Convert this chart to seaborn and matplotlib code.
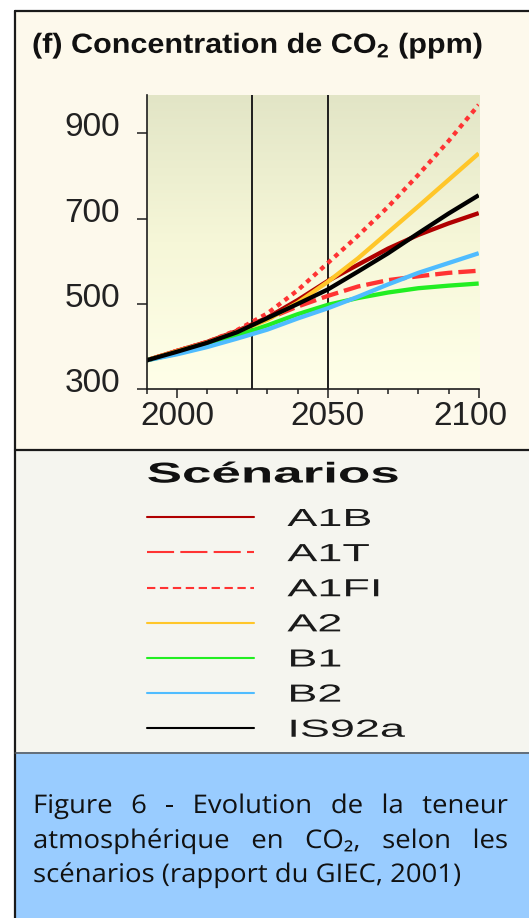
import numpy as np
import pandas as pd
import matplotlib
matplotlib.use("Agg")
import matplotlib.pyplot as plt
import seaborn as sns
from matplotlib import patheffects
from matplotlib.transforms import Affine2D, ScaledTranslation
from matplotlib.patches import Rectangle
from matplotlib.lines import Line2D

# ---------------------------------------------------------------- data
years = [1990, 2000, 2010, 2020, 2030, 2040, 2050, 2060, 2070, 2080, 2090, 2100]

a1b   = [368, 390, 411, 437, 468, 509, 554, 592, 630, 662, 689, 713]
a1t   = [368, 390, 410, 436, 465, 494, 519, 541, 556, 565, 573, 578]
a1fi  = [368, 390, 411, 439, 478, 532, 596, 660, 728, 803, 882, 967]
a2    = [368, 389, 409, 434, 463, 503, 552, 607, 668, 729, 791, 853]
b1    = [368, 384, 401, 426, 450, 476, 498, 514, 527, 537, 543, 548]
b2    = [368, 382, 399, 419, 440, 466, 490, 517, 546, 573, 596, 619]
is92a = [368, 388, 409, 434, 467, 500, 534, 576, 619, 666, 712, 755]

scenarios = ["A1B", "A1T", "A1FI", "A2", "B1", "B2", "IS92a"]
series = [a1b, a1t, a1fi, a2, b1, b2, is92a]
colors = ["#b00000", "#ff3333", "#ff3333", "#ffc629", "#22ee22", "#4fbcff", "#000000"]

y_ticks = [300, 500, 700, 900]
x_major = [2000, 2050, 2100]
x_minor = list(range(1990, 2101, 10))
period_marks = [2025, 2050]

title = r"(f) Concentration de CO$_\mathbf{2}$ (ppm)"
legend_title = "Scénarios"
caption_lines = [
    "Figure 6 - Evolution de la teneur",
    "atmosphérique en CO₂, selon les",
    "scénarios (rapport du GIEC, 2001)",
]

# ---------------------------------------------------------------- helpers
W, H, DPI = 529, 918, 100


def fx(px):
    return px / W


def fy(py):
    return 1 - py / H


class StretchX(patheffects.AbstractPathEffect):
    """Widen glyphs horizontally, keeping the left edge in place."""

    def __init__(self, sx):
        super().__init__()
        self.sx = sx

    def draw_path(self, renderer, gc, tpath, affine, rgbFace=None):
        if not len(tpath.vertices):
            return
        verts = affine.transform(tpath.vertices)
        x0 = verts[:, 0].min()
        aff = affine + Affine2D().translate(-x0, 0).scale(self.sx, 1).translate(x0, 0)
        renderer.draw_path(gc, tpath, aff, rgbFace)


sns.set_theme(style="white")
plt.rcParams["font.family"] = ["Liberation Sans", "DejaVu Sans"]
plt.rcParams["mathtext.fontset"] = "custom"
plt.rcParams["mathtext.rm"] = "Liberation Sans"
plt.rcParams["mathtext.bf"] = "Liberation Sans:bold"

fig = plt.figure(figsize=(W / DPI, H / DPI), dpi=DPI, facecolor="white")

# ---------------------------------------------------------------- panels
fig.add_artist(Rectangle((fx(15), fy(450)), 1, fy(11) - fy(450),
                         transform=fig.transFigure, facecolor="#fdf9ec", edgecolor="none", zorder=-5))
fig.add_artist(Rectangle((fx(15), fy(752)), 1, fy(450) - fy(752),
                         transform=fig.transFigure, facecolor="#f5f5ef", edgecolor="none", zorder=-5))
fig.add_artist(Rectangle((fx(15), 0), 1, fy(752),
                         transform=fig.transFigure, facecolor="#99ccff", edgecolor="none", zorder=-5))
for xs, ys, c, lw in [
    ([15, W], [11, 11], "#1a1a1a", 1.6),
    ([15, 15], [11, H], "#1a1a1a", 1.6),
    ([15, W], [450, 450], "#1a1a1a", 1.6),
    ([15, W], [752.5, 752.5], "#555555", 1.1),
]:
    fig.add_artist(Line2D([fx(v) for v in xs], [fy(v) for v in ys],
                          transform=fig.transFigure, color=c, lw=lw, zorder=-4))

# ---------------------------------------------------------------- axes
left, right, top, bottom = 146.7, 479.3, 95.0, 389.3
rect = [fx(left), fy(bottom), fx(right) - fx(left), fy(top) - fy(bottom)]

bg = fig.add_axes(rect, zorder=0)
stops = np.array([[226, 229, 198], [246, 247, 216], [255, 255, 233]]) / 255
t = np.linspace(0, 1, 256)
grad = np.stack([np.interp(t, [0, 0.5, 1], stops[:, k]) for k in range(3)], axis=1)
bg.imshow(grad[:, None, :], aspect="auto", extent=(0, 1, 0, 1), interpolation="bilinear")
bg.axis("off")

ax = fig.add_axes(rect, zorder=1)
ax.set_facecolor("none")

df = pd.DataFrame({
    "Année": np.tile(years, len(scenarios)),
    "CO2": np.concatenate(series),
    "Scénario": np.repeat(scenarios, len(years)),
})
dash_map = {"A1B": "", "A1T": (4, 1.4), "A1FI": (1.1, 1.1), "A2": "",
            "B1": "", "B2": "", "IS92a": ""}
sns.lineplot(data=df, x="Année", y="CO2", hue="Scénario", style="Scénario",
             hue_order=scenarios, style_order=scenarios,
             palette=dict(zip(scenarios, colors)), dashes=dash_map,
             linewidth=3.1, estimator=None, ax=ax, legend="full")
for ln in ax.lines:
    ln.set_solid_capstyle("butt")
    ln.set_dash_capstyle("butt")
    ln.set_solid_joinstyle("round")

for yr in period_marks:
    ax.axvline(yr, color="#1e1e1e", lw=1.4, zorder=1.5)

ax.set_xlim(1990, 2100.2)
ax.set_ylim(300, 990)
ax.set_xlabel("")
ax.set_ylabel("")
for side in ["top", "right"]:
    ax.spines[side].set_visible(False)
for side in ["left", "bottom"]:
    ax.spines[side].set_color("#1e1e1e")
    ax.spines[side].set_linewidth(1.2)

ax.set_yticks(y_ticks)
ax.set_yticklabels([str(v) for v in y_ticks])
ax.set_xticks(x_major)
ax.set_xticklabels([str(v) for v in x_major])
ax.set_xticks(x_minor, minor=True)
ax.tick_params(axis="y", which="major", length=7.2, width=1.1, color="#1e1e1e",
               pad=12, labelsize=24, labelcolor="#222222", direction="out", left=True)
ax.tick_params(axis="x", which="major", length=6.5, width=1.1, color="#1e1e1e",
               pad=2, labelsize=24, labelcolor="#222222", direction="out", bottom=True)
ax.tick_params(axis="x", which="minor", length=3.6, width=1.1, color="#1e1e1e",
               direction="out", bottom=True)
for lab in ax.get_yticklabels():
    lab.set_transform(lab.get_transform() + ScaledTranslation(0, 0.09, fig.dpi_scale_trans))
last = ax.get_xticklabels()[-1]
last.set_transform(last.get_transform() + ScaledTranslation(-0.08, 0, fig.dpi_scale_trans))

# ---------------------------------------------------------------- title
fig.text(fx(32), fy(53), title, fontsize=20, fontweight="bold", color="#111111",
         ha="left", va="baseline", path_effects=[StretchX(1.10)])

# ---------------------------------------------------------------- legend
old = ax.get_legend()
handles = list(old.legend_handles)
labels = [tx.get_text() for tx in old.get_texts()]
old.remove()
fig.text(fx(146.7), fy(482.5), legend_title, fontsize=20.6, fontweight="bold",
         color="#111111", ha="left", va="baseline", path_effects=[StretchX(1.85)])
leg = fig.legend(handles, labels, loc="upper left",
                 bbox_to_anchor=(fx(146.7), fy(507)), bbox_transform=fig.transFigure,
                 frameon=False, fontsize=17.8,
                 handlelength=4.33, handletextpad=1.36, labelspacing=0.45,
                 borderpad=0, borderaxespad=0)
leg_dashes = {"A1T": (0, (13, 3)), "A1FI": (0, (4, 2.2))}
for ln, name in zip(leg.get_lines(), labels):
    ln.set_linewidth(1.5)
    ln.set_linestyle(leg_dashes.get(name, "-"))
    ln.set_dash_capstyle("butt")
for tx in leg.get_texts():
    tx.set_color("#1a1a1a")
    tx.set_path_effects([StretchX(1.82)])

# ---------------------------------------------------------------- caption (justified)
cap_sx = 1.07
cap_kw = dict(fontsize=18.5, color="#111111", family=["Open Sans", "DejaVu Sans"],
              va="baseline", ha="left", path_effects=[StretchX(cap_sx)])
cap_left, cap_right = 33, 508
baselines = [813, 848, 882]
renderer = fig.canvas.get_renderer()
for i, (line, yb) in enumerate(zip(caption_lines, baselines)):
    if i == len(caption_lines) - 1:
        fig.text(fx(cap_left), fy(yb), line, **cap_kw)
        continue
    words = line.split(" ")
    objs = [fig.text(0, fy(yb), w, **cap_kw) for w in words]
    widths = [o.get_window_extent(renderer).width * cap_sx for o in objs]
    gap = (cap_right - cap_left - sum(widths)) / (len(words) - 1)
    xpos = cap_left
    for o, w in zip(objs, widths):
        o.set_x(fx(xpos))
        xpos += w + gap

fig.savefig("out.png", dpi=DPI, facecolor="white")
